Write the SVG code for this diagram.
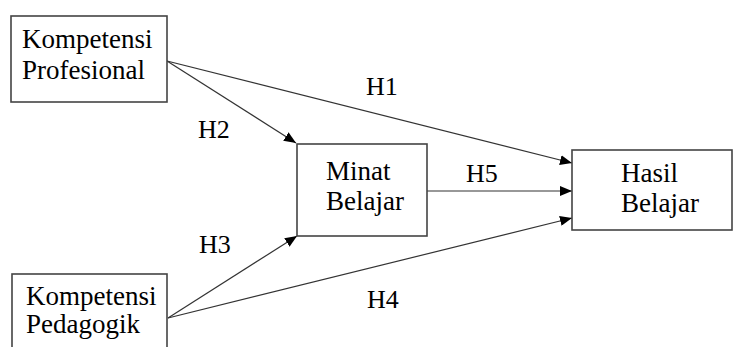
<svg xmlns="http://www.w3.org/2000/svg" width="734" height="347" viewBox="0 0 734 347">
<defs>
<style>
.box{fill:#fff;stroke:#444;stroke-width:1.6}
.t{font-family:"Liberation Serif","Times New Roman",serif;font-size:27px;fill:#000}
.lbl{font-family:"Liberation Serif","Times New Roman",serif;font-size:26px;fill:#000}
.edge{stroke:#333;stroke-width:1.2;fill:none;marker-end:url(#ah)}
</style>
<marker id="ah" viewBox="0 0 12 10" refX="12" refY="5" markerWidth="12" markerHeight="10" markerUnits="userSpaceOnUse" orient="auto">
<path d="M0,0 L12,5 L0,10 Z" fill="#000"/>
</marker>
</defs>
<rect width="734" height="347" fill="#fff"/>
<g id="connectors">
<line class="edge" x1="167" y1="61" x2="572" y2="163"/>
<line class="edge" x1="167" y1="61" x2="296" y2="143"/>
<line class="edge" x1="427" y1="191" x2="572" y2="191"/>
<line class="edge" x1="168" y1="318" x2="297" y2="236"/>
<line class="edge" x1="168" y1="318" x2="572" y2="218"/>
</g>
<g id="labels">
<text class="lbl" x="366" y="95">H1</text>
<text class="lbl" x="198" y="138">H2</text>
<text class="lbl" x="199" y="253">H3</text>
<text class="lbl" x="367" y="308">H4</text>
<text class="lbl" x="466" y="182">H5</text>
</g>
<g id="kompetensi-profesional">
<rect class="box" x="11" y="16" width="156" height="86"/>
<text class="t" x="22" y="48">Kompetensi</text>
<text class="t" x="22" y="79">Profesional</text>
</g>
<g id="kompetensi-pedagogik">
<rect class="box" x="12" y="274" width="155" height="90"/>
<text class="t" x="26" y="305">Kompetensi</text>
<text class="t" x="26" y="333">Pedagogik</text>
</g>
<g id="minat-belajar">
<rect class="box" x="297" y="144" width="130" height="92"/>
<text class="t" x="326" y="180">Minat</text>
<text class="t" x="326" y="210">Belajar</text>
</g>
<g id="hasil-belajar">
<rect class="box" x="572" y="150" width="160" height="80"/>
<text class="t" x="621" y="182">Hasil</text>
<text class="t" x="621" y="212">Belajar</text>
</g>
</svg>
